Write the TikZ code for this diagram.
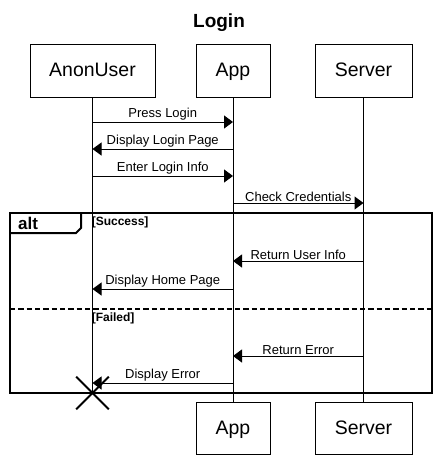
\documentclass[tikz,border=0pt]{standalone}
\usepackage{fontspec}
\setmainfont{Liberation Sans}
\usetikzlibrary{arrows.meta, shapes.misc}

\begin{document}
\begin{tikzpicture}[
        x=0.75pt, y=-0.75pt,
        actor/.style={draw, line width=0.75pt, minimum height=39pt, inner sep=0pt, text height=11pt, text depth=2pt, font=\fontsize{14.6}{17}\selectfont},
        life/.style={line width=0.75pt},
        msg/.style={line width=0.75pt, -{Triangle[length=6.75pt, width=9.75pt]}},
        lbl/.style={above, inner sep=1pt, font=\fontsize{9.75}{11}\selectfont},
        frame/.style={draw, line width=1.5pt},
        guard/.style={anchor=north west, inner sep=0pt, font=\bfseries\fontsize{9}{10}\selectfont},
        stop/.style={cross out, draw, line width=1.5pt, minimum size=23pt, inner sep=0pt}
    ]
    \useasboundingbox (0,0) rectangle (437,460);

    % Kopf
    \node[font=\bfseries\fontsize{14.25}{16}\selectfont] (title) at (219,23) {Login};
    \node[actor, minimum width=93.75pt] (au) at (92.5,71) {AnonUser};
    \node[actor, minimum width=55.5pt] (app) at (233,71) {App};
    \node[actor, minimum width=72.75pt] (srv) at (363.5,71) {Server};

    % Fuss
    \node[actor, minimum width=55.5pt] (app2) at (233,428.5) {App};
    \node[actor, minimum width=72.75pt] (srv2) at (363.5,428.5) {Server};
    \coordinate (auend) at (92.5,393);

    % Lebenslinien
    \draw[life] (au) -- (auend);
    \draw[life] (app) -- (app2);
    \draw[life] (srv) -- (srv2);

    % Nachrichten
    \coordinate (m1) at (0,122);
    \coordinate (m2) at (0,149);
    \coordinate (m3) at (0,176);
    \coordinate (m4) at (0,203);
    \coordinate (m5) at (0,261);
    \coordinate (m6) at (0,289);
    \coordinate (m7) at (0,356);
    \coordinate (m8) at (0,383);
    \draw[msg] (au |- m1) -- node[lbl] {Press Login} (app |- m1);
    \draw[msg] (app |- m2) -- node[lbl] {Display Login Page} (au |- m2);
    \draw[msg] (au |- m3) -- node[lbl] {Enter Login Info} (app |- m3);
    \draw[msg] (app |- m4) -- node[lbl] {Check Credentials} (srv |- m4);
    \draw[msg] (srv |- m5) -- node[lbl] {Return User Info} (app |- m5);
    \draw[msg] (app |- m6) -- node[lbl] {Display Home Page} (au |- m6);
    \draw[msg] (srv |- m7) -- node[lbl] {Return Error} (app |- m7);
    \draw[msg] (app |- m8) -- node[lbl] {Display Error} (au |- m8);

    % alt-Rahmen
    \draw[frame] (10,213) rectangle (432,393);
    \draw[frame] (10,233) -- (76,233) -- (81,228) -- (81,213);
    \node[font=\bfseries\fontsize{12.75}{14}\selectfont] (alt) at (28,223) {alt};
    \node[guard] (ok) at (91.5,216.5) {[Success]};
    \draw[frame, dash pattern=on 4pt off 2.25pt] (10,309) -- (432,309);
    \node[guard] (fail) at (91.5,312.5) {[Failed]};

    % Ende
    \node[stop] (x) at (auend) {};

    \end{tikzpicture}
\end{document}
